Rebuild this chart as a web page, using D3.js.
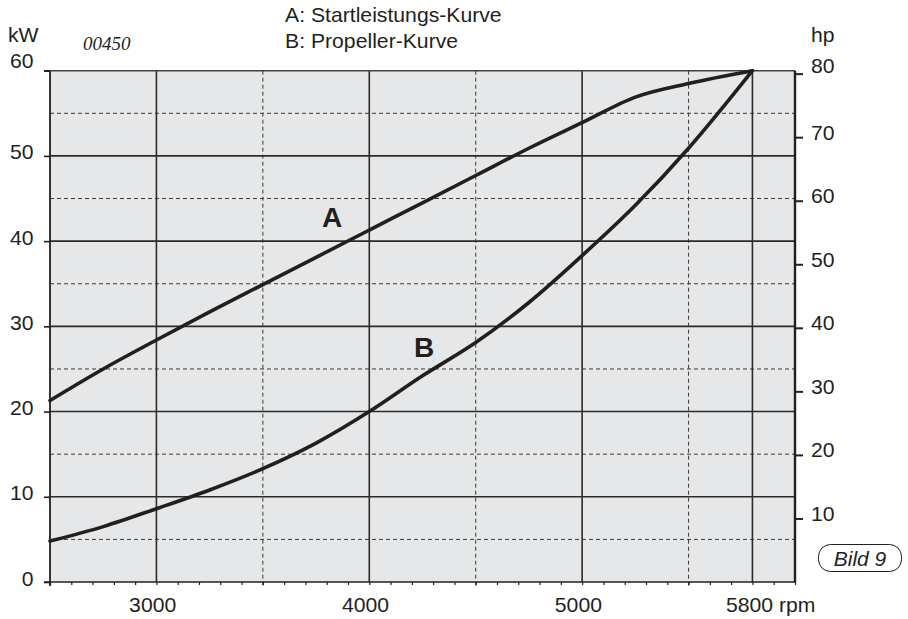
<!DOCTYPE html>
<html>
<head>
<meta charset="utf-8">
<script src="https://cdn.jsdelivr.net/npm/d3@7"></script>
<style>
  body { margin: 0; background: #fff; }
  text { font-family: "Liberation Sans", Arial, sans-serif; fill: #231f20; }
</style>
</head>
<body>
<div id="chart-area"></div>
<script>
// values (kW over rpm)
var rpm    = [2500, 2750, 3000, 3250, 3500, 3750, 4000, 4250, 4500, 4750, 5000, 5250, 5500, 5800];
var curveA = [21.3, 25.0, 28.4, 31.7, 34.9, 38.1, 41.3, 44.5, 47.7, 50.9, 53.9, 56.9, 58.5, 60];
var curveB = [4.8, 6.5, 8.6, 10.8, 13.3, 16.3, 20.0, 24.2, 28.1, 32.8, 38.3, 44.2, 50.9, 60];

var kwTicks   = [0, 10, 20, 30, 40, 50, 60];
var kwDashed  = [5, 15, 25, 35, 45, 55];
var hpTicks   = [10, 20, 30, 40, 50, 60, 70, 80];
var rpmTicks  = [3000, 4000, 5000, 5800];
var rpmDashed = [3500, 4500, 5500];
var legend    = ["A: Startleistungs-Kurve", "B: Propeller-Kurve"];
var kwPerHp   = 0.7457;

var svgWidth = 908,
    svgHeight = 619,
    plot = { left: 50, right: 795, top: 70.7, bottom: 582 },
    ink = "#231f20",
    stretch = "scale(1.06,1)";

var svg = d3.select("#chart-area")
            .append("svg")
            .attr("width", svgWidth)
            .attr("height", svgHeight);

var x   = d3.scaleLinear().domain([2500, 6000]).range([plot.left, plot.right]);
var y   = d3.scaleLinear().domain([0, 60]).range([plot.bottom, plot.top]);
var yHp = d3.scaleLinear().domain([0, 60 / kwPerHp]).range([plot.bottom, plot.top]);

svg.append("rect")
   .attr("x", plot.left)
   .attr("y", plot.top)
   .attr("width", plot.right - plot.left)
   .attr("height", plot.bottom - plot.top)
   .attr("fill", "#e6e7e8");

// grid
svg.append("g").selectAll("line")
   .data(kwDashed).enter().append("line")
   .attr("x1", plot.left).attr("x2", plot.right)
   .attr("y1", function(d) { return y(d); })
   .attr("y2", function(d) { return y(d); })
   .attr("stroke", "#3a3a3a").attr("stroke-width", 1)
   .attr("stroke-dasharray", "4,3");

svg.append("g").selectAll("line")
   .data(rpmDashed).enter().append("line")
   .attr("x1", function(d) { return x(d); })
   .attr("x2", function(d) { return x(d); })
   .attr("y1", plot.top).attr("y2", plot.bottom + 5)
   .attr("stroke", "#3a3a3a").attr("stroke-width", 1)
   .attr("stroke-dasharray", "4,3");

svg.append("g").selectAll("line")
   .data(kwTicks.slice(1, 6)).enter().append("line")
   .attr("x1", plot.left).attr("x2", plot.right)
   .attr("y1", function(d) { return y(d); })
   .attr("y2", function(d) { return y(d); })
   .attr("stroke", "#2b2b2b").attr("stroke-width", 1.6);

svg.append("g").selectAll("line")
   .data(rpmTicks).enter().append("line")
   .attr("x1", function(d) { return x(d); })
   .attr("x2", function(d) { return x(d); })
   .attr("y1", plot.top).attr("y2", plot.bottom)
   .attr("stroke", "#2b2b2b").attr("stroke-width", 1.6);

// minor rpm ticks under the bottom line
var minorAxis = svg.append("g")
                   .attr("transform", "translate(0," + plot.bottom + ")")
                   .call(d3.axisBottom(x).tickValues(d3.range(2500, 6001, 100)).tickSize(3).tickFormat(""));
minorAxis.select(".domain").remove();
minorAxis.selectAll("line").attr("stroke", ink).attr("stroke-width", 1.2);

// frame
svg.append("line")
   .attr("x1", plot.left - 6).attr("x2", plot.right)
   .attr("y1", plot.top).attr("y2", plot.top)
   .attr("stroke", "#444").attr("stroke-width", 1.6);
svg.append("line")
   .attr("x1", plot.left - 6).attr("x2", plot.right)
   .attr("y1", plot.bottom).attr("y2", plot.bottom)
   .attr("stroke", ink).attr("stroke-width", 1.6);
svg.append("line")
   .attr("x1", plot.left).attr("x2", plot.left)
   .attr("y1", plot.top).attr("y2", plot.bottom + 4)
   .attr("stroke", ink).attr("stroke-width", 1.8);
svg.append("line")
   .attr("x1", plot.right).attr("x2", plot.right)
   .attr("y1", plot.top).attr("y2", plot.bottom)
   .attr("stroke", ink).attr("stroke-width", 2.4);

// left kW axis
var leftAxis = svg.append("g")
                  .attr("transform", "translate(" + plot.left + ",0)")
                  .call(d3.axisLeft(y).tickValues(kwTicks).tickSize(6));
leftAxis.select(".domain").remove();
leftAxis.selectAll("line").attr("stroke", ink).attr("stroke-width", 1.6);
leftAxis.selectAll("text")
        .attr("x", -15.6)
        .attr("dy", null)
        .attr("y", function(d) { return d === 60 ? -3.7 : 3; })
        .attr("transform", stretch)
        .style("font-size", "20px")
        .style("font-family", null)
        .attr("fill", ink);

// right hp axis
var rightAxis = svg.append("g")
                   .attr("transform", "translate(" + plot.right + ",0)")
                   .call(d3.axisRight(yHp).tickValues(hpTicks).tickSize(8));
rightAxis.select(".domain").remove();
rightAxis.selectAll("line").attr("stroke", ink).attr("stroke-width", 2);
rightAxis.selectAll("text")
         .attr("x", 15)
         .attr("dy", null)
         .attr("y", function(d) { return d === 80 ? -1 : 2; })
         .attr("transform", stretch)
         .style("font-size", "20px")
         .attr("fill", ink);

// bottom rpm labels
var bottomAxis = svg.append("g")
                    .attr("transform", "translate(0," + plot.bottom + ")")
                    .call(d3.axisBottom(x).tickValues(rpmTicks).tickSize(0));
bottomAxis.select(".domain").remove();
bottomAxis.selectAll("text")
          .attr("dy", null)
          .attr("y", 30)
          .attr("x", function(d) { return d === 5800 ? -25.5 : -4; })
          .attr("text-anchor", function(d) { return d === 5800 ? "start" : "middle"; })
          .attr("transform", stretch)
          .style("font-size", "20px")
          .attr("fill", ink)
          .text(function(d) { return d === 5800 ? d + " rpm" : d; });

// unit labels, legend, code
function label(str, px, py, size) {
  return svg.append("text")
            .attr("transform", "translate(" + px + "," + py + ") " + stretch)
            .style("font-size", size + "px")
            .text(str);
}
label("kW", 8, 42, 20);
label("hp", 811, 42, 20);
legend.forEach(function(s, i) {
  label(s, 285, 21.5 + i * 26.8, 20);
});

svg.append("text")
   .attr("x", 83).attr("y", 50)
   .style("font-family", "'Liberation Serif', 'Times New Roman', serif")
   .style("font-style", "italic")
   .style("font-size", "19px")
   .text("00450");

// curves
var line = d3.line()
             .x(function(d) { return x(d[0]); })
             .y(function(d) { return y(d[1]); })
             .curve(d3.curveMonotoneX);

[curveA, curveB].forEach(function(series) {
  svg.append("path")
     .datum(rpm.map(function(r, i) { return [r, series[i]]; }))
     .attr("d", line)
     .attr("fill", "none")
     .attr("stroke", ink)
     .attr("stroke-width", 3.6)
     .attr("stroke-linejoin", "round")
     .attr("stroke-linecap", "round");
});

svg.append("text")
   .attr("x", 322).attr("y", 227)
   .style("font-size", "28px").style("font-weight", "bold")
   .text("A");
svg.append("text")
   .attr("x", 414).attr("y", 357)
   .style("font-size", "28px").style("font-weight", "bold")
   .text("B");

// figure tag
svg.append("rect")
   .attr("x", 818.5).attr("y", 544.5)
   .attr("width", 83).attr("height", 27)
   .attr("rx", 12).attr("ry", 12)
   .attr("fill", "#fff")
   .attr("stroke", ink).attr("stroke-width", 1);
svg.append("text")
   .attr("x", 860).attr("y", 566)
   .attr("text-anchor", "middle")
   .style("font-style", "italic")
   .style("font-size", "21px")
   .text("Bild 9");
</script>
</body>
</html>
